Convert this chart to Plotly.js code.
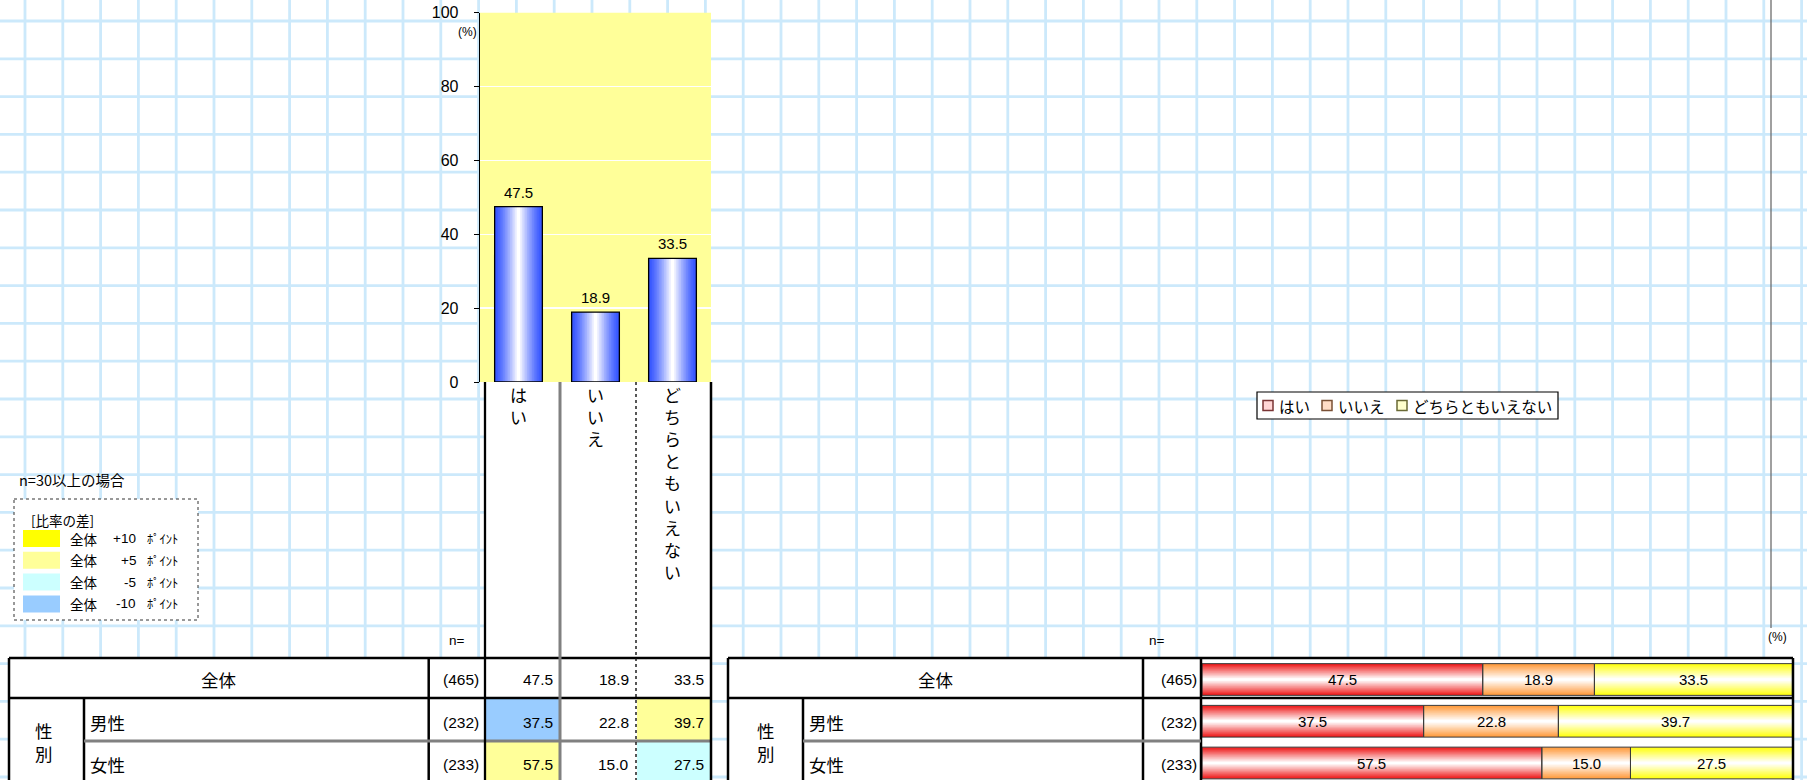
<!DOCTYPE html>
<html><head><meta charset="utf-8">
<script src="https://cdn.plot.ly/plotly-3.0.1.min.js"></script>
<style>html,body{margin:0;padding:0;background:#fff;}#chart{width:1807px;height:780px;}</style>
</head><body><div id="chart"></div>
<script>
// ---------------- data ----------------
const categories = ['はい', 'いいえ', 'どちらともいえない'];
const overall = [47.5, 18.9, 33.5];
const rowLabels = ['全体', '男性', '女性'];
const groupLabel = '性別';
const rowN = [465, 232, 233];
const seriesHai = [47.5, 37.5, 57.5];
const seriesIie = [18.9, 22.8, 15.0];
const seriesDochira = [33.5, 39.7, 27.5];
const yTickVals = [0, 20, 40, 60, 80, 100];
const diffLegendNums = ['+10', '+5', '-5', '-10'];
const diffLegendColors = ['#ffff00', '#ffff99', '#ccffff', '#99ccff'];
const noteText = 'n=30以上の場合';
const diffTitle = '[比率の差]';

// ---------------- helpers ----------------
const W = 1807, H = 780;
const px = x => x / W, py = y => 1 - y / H;
const JP = '"Noto Sans CJK JP", "Noto Sans", sans-serif';
const NUM = '"Liberation Sans", Arial, sans-serif';
const NARROW = '"Liberation Sans Narrow", "Liberation Sans", Arial, sans-serif';
function mix(c1, c2, t) {
  const a = parseInt(c1.slice(1), 16), b = parseInt(c2.slice(1), 16);
  const ch = s => Math.round(((a >> s) & 255) * (1 - t) + ((b >> s) & 255) * t);
  return 'rgb(' + ch(16) + ',' + ch(8) + ',' + ch(0) + ')';
}
const shapes = [];
const annotations = [];
function line(x0, y0, x1, y1, color, width, dash, layer) {
  shapes.push({type: 'line', xref: 'paper', yref: 'paper', x0: px(x0), y0: py(y0), x1: px(x1), y1: py(y1),
    line: {color: color, width: width, dash: dash || 'solid'}, layer: layer || 'above'});
}
function rect(x0, y0, x1, y1, fill, lineColor, lineWidth, dash, layer) {
  shapes.push({type: 'rect', xref: 'paper', yref: 'paper', x0: px(x0), y0: py(y0), x1: px(x1), y1: py(y1),
    fillcolor: fill || 'rgba(0,0,0,0)', line: {color: lineColor || 'rgba(0,0,0,0)', width: lineWidth || 0, dash: dash || 'solid'},
    layer: layer || 'below'});
}
function text(t, x, y, anchor, size, family, extra) {
  annotations.push(Object.assign({text: t, xref: 'paper', yref: 'paper', x: px(x), y: py(y), xanchor: anchor || 'center',
    yanchor: 'middle', showarrow: false, font: {size: size, family: family, color: '#000'}}, extra || {}));
}

// ---------------- geometry (layout) ----------------
const plotL = 480, plotR = 711, plotT = 12.7, plotB = 382;
const colEdges = [485, 560, 636, 711];
const tableTop = 658, rowLines = [658, 698, 741, 784];
const rowTextY = [679, 722, 764];
const barL = 1202, barR = 1793;
const rowPitch = 41.75, row0 = 679.5;

// background grid
const gridC = '#cce9fb';
for (let x = 25; x < W; x += 37.8) line(x, 0, x, H, gridC, 2.8, 'solid', 'below');
for (let y = 21; y < H; y += 37.8) line(0, y, W, y, gridC, 2.8, 'solid', 'below');
// right page edge line
line(1771, 0, 1771, 628, '#6d6d6d', 1.3, 'solid', 'below');

// white areas
rect(colEdges[0], plotB, plotR, tableTop, '#ffffff');
rect(9, tableTop, 712, H, '#ffffff');
rect(728, tableTop, 1793, H, '#ffffff');
rect(14, 499, 198, 620, '#ffffff');
rect(1257, 392, 1558, 419, '#ffffff');
// plot background
rect(plotL, plotT, plotR, plotB, '#ffff99');

// coloured difference cells
const tableSeries = [seriesHai, seriesIie, seriesDochira];
function diffColor(d) {
  if (d > 10) return '#ffff00';
  if (d >= 5) return '#ffff99';
  if (d <= -10) return '#99ccff';
  if (d <= -5) return '#ccffff';
  return null;
}
for (let r = 1; r < rowLabels.length; r++) {
  for (let c = 0; c < categories.length; c++) {
    const col = diffColor(tableSeries[c][r] - overall[c]);
    if (col) rect(colEdges[c] + 1, rowLines[r] + 1, colEdges[c + 1] - 1, rowLines[r + 1] - 1, col);
  }
}

// ---------------- table lines ----------------
const BK = '#000';
// left table
line(9, tableTop, 712, tableTop, BK, 2.5);
line(9, tableTop, 9, H, BK, 2.5);
line(9, rowLines[1], 712, rowLines[1], BK, 2.5);
line(428.7, tableTop, 428.7, H, BK, 2.5);
line(84, rowLines[1], 84, H, BK, 2.5);
line(84, rowLines[2], 711, rowLines[2], '#808080', 3);
line(colEdges[0], plotB, colEdges[0], H, BK, 2.3);
line(colEdges[1], plotB, colEdges[1], H, '#808080', 3);
line(colEdges[2], plotB, colEdges[2], H, '#111', 1.4, 'dot');
line(plotR, plotB, plotR, H, BK, 2.5);
// right table
line(728, tableTop, 1793, tableTop, BK, 2.5);
line(728, tableTop, 728, H, BK, 2.5);
line(1793, tableTop, 1793, H, BK, 2.5);
line(728, rowLines[1], 1793, rowLines[1], BK, 2.5);
line(1143, tableTop, 1143, H, BK, 2.5);
line(1201, tableTop, 1201, H, BK, 2.5);
line(803, rowLines[1], 803, H, BK, 2.5);
line(803, rowLines[2], 1201, rowLines[2], '#808080', 3);

// diff legend box
rect(14, 499, 198, 620, null, '#333', 1, 'dot', 'above');
text(noteText, 17, 479, 'left', 14.5, JP);
text(diffTitle, 29, 520, 'left', 13.5, JP);
for (let i = 0; i < diffLegendNums.length; i++) {
  const cy = 538.5 + i * 21.8;
  rect(23, cy - 8.5, 60, cy + 8.5, diffLegendColors[i]);
  text(rowLabels[0], 68, cy, 'left', 13.5, JP);
  text(diffLegendNums[i], 138, cy, 'right', 13.5, NUM);
  text('ﾎﾟｲﾝﾄ', 145, cy, 'left', 12.5, JP);
}

// right legend (series)
const legendFill = ['#ffd6d6', '#ffdcc6', '#ffffcc'];
const legendBorder = ['#7a3535', '#7a5035', '#6a6a35'];
const legendSq = [1263, 1322, 1397];
rect(1257, 392, 1558, 419, null, '#000', 1.2, 'solid', 'above');
for (let i = 0; i < categories.length; i++) {
  rect(legendSq[i], 400.5, legendSq[i] + 10, 410.5, legendFill[i], legendBorder[i], 1.5, 'solid', 'above');
  text(categories[i], legendSq[i] + 14, 405.5, 'left', 15.5, JP);
}

// n= labels and (%)
text('n=', 447, 640, 'left', 13.5, NUM);
text('n=', 1147, 640, 'left', 13.5, NUM);
text('(%)', 1789, 637, 'right', 12, NUM);
text('(%)', 479, 32.5, 'right', 12, NUM);

// table texts
function tableText(centerX, rowLeftX, nRightX) {
  text(rowLabels[0], centerX, rowTextY[0], 'center', 17.5, JP);
  text([...groupLabel].join('<br>'), rowLeftX, 742, 'center', 17.5, JP);
  for (let r = 0; r < rowLabels.length; r++) {
    text('(' + rowN[r] + ')', nRightX, rowTextY[r], 'right', 15.5, NARROW);
  }
}
tableText(219, 44, 481);
tableText(936, 765.5, 1199);
text(rowLabels[1], 88, rowTextY[1], 'left', 17.5, JP);
text(rowLabels[2], 88, rowTextY[2], 'left', 17.5, JP);
text(rowLabels[1], 807, rowTextY[1], 'left', 17.5, JP);
text(rowLabels[2], 807, rowTextY[2], 'left', 17.5, JP);
for (let r = 0; r < rowLabels.length; r++) {
  for (let c = 0; c < categories.length; c++) {
    text(tableSeries[c][r].toFixed(1), colEdges[c + 1] - 5, rowTextY[r], 'right', 15.5, NARROW);
  }
}

// ---------------- traces ----------------
const traces = [];
const layers = 14;
const barW = 0.62;
const blueEdge = '#3656ff';
for (let k = 0; k < layers; k++) {
  traces.push({type: 'bar', x: categories, y: overall, width: barW * (1 - k / layers), xaxis: 'x', yaxis: 'y',
    marker: {color: mix(blueEdge, '#ffffff', Math.pow(k / (layers - 1), 1.3)), line: {width: 0}}, hoverinfo: 'skip', showlegend: false});
}
traces.push({type: 'bar', x: categories, y: overall, width: barW, xaxis: 'x', yaxis: 'y',
  marker: {color: 'rgba(0,0,0,0)', line: {width: 1.3, color: '#000'}}, hoverinfo: 'skip', showlegend: false});
// value labels above bars
categories.forEach((c, i) => {
  annotations.push({text: overall[i].toFixed(1), xref: 'x', yref: 'y', x: c, y: overall[i], xanchor: 'center',
    yanchor: 'bottom', yshift: 4, showarrow: false, font: {size: 15, family: NUM, color: '#000'}});
});

// stacked horizontal bars
const segEdges = ['#ee1a1a', '#ff9a3c', '#ffff10'];
const barH = 0.76;
const bases = tableSeries.map((s, si) => s.map((_, ri) => tableSeries.slice(0, si).reduce((a, b) => a + b[ri], 0)));
for (let si = 0; si < tableSeries.length; si++) {
  for (let k = 0; k < layers; k++) {
    traces.push({type: 'bar', orientation: 'h', y: rowLabels, x: tableSeries[si], base: bases[si],
      width: barH * (1 - k / layers), xaxis: 'x2', yaxis: 'y2',
      marker: {color: mix(segEdges[si], '#ffffff', k / (layers - 1)), line: {width: 0}}, hoverinfo: 'skip', showlegend: false});
  }
}
for (let si = 0; si < tableSeries.length; si++) {
  traces.push({type: 'bar', orientation: 'h', y: rowLabels, x: tableSeries[si], base: bases[si], width: barH,
    xaxis: 'x2', yaxis: 'y2', marker: {color: 'rgba(0,0,0,0)', line: {width: 1, color: '#3a3a3a'}},
    hoverinfo: 'skip', showlegend: false});
  rowLabels.forEach((r, ri) => {
    annotations.push({text: tableSeries[si][ri].toFixed(1), xref: 'x2', yref: 'y2', x: bases[si][ri] + tableSeries[si][ri] / 2,
      y: r, xanchor: 'center', yanchor: 'middle', showarrow: false, font: {size: 15, family: NUM, color: '#000'}});
  });
}

const y2Top = row0 - 0.5 * rowPitch;
const y2BottomVal = (H - row0) / rowPitch;

const layout = {
  width: W, height: H,
  margin: {l: 0, r: 0, t: 0, b: 0, pad: 0},
  paper_bgcolor: '#ffffff', plot_bgcolor: 'rgba(0,0,0,0)',
  barmode: 'overlay', showlegend: false,
  xaxis: {domain: [px(plotL), px(plotR)], type: 'category', categoryorder: 'array', categoryarray: categories,
    range: [-0.5, 2.5], tickvals: categories, ticktext: categories.map(c => [...c].join('<br>')),
    tickangle: 0, ticks: '', showline: false, showgrid: false, zeroline: false, fixedrange: true,
    tickfont: {size: 17, family: JP, color: '#000'}, ticklabelstandoff: 2, automargin: false, anchor: 'y'},
  yaxis: {domain: [py(plotB), py(plotT)], range: [0, 100], tickvals: yTickVals, ticks: 'outside', ticklen: 5,
    tickcolor: '#000', tickwidth: 1, showline: true, linecolor: '#000', linewidth: 1.3, showgrid: true,
    gridcolor: '#ffffff', gridwidth: 1.3, zeroline: false, tickfont: {size: 16, family: NUM, color: '#000'},
    ticklabelstandoff: 12, automargin: false, anchor: 'x', fixedrange: true},
  xaxis2: {domain: [px(barL), px(barR)], range: [0, 100], visible: false, anchor: 'y2', fixedrange: true},
  yaxis2: {domain: [0, py(y2Top)], type: 'category', categoryorder: 'array', categoryarray: rowLabels,
    range: [y2BottomVal, -0.5], visible: false, anchor: 'x2', fixedrange: true},
  shapes: shapes,
  annotations: annotations
};

Plotly.newPlot('chart', traces, layout, {staticPlot: true, displayModeBar: false});
</script>
</body></html>
